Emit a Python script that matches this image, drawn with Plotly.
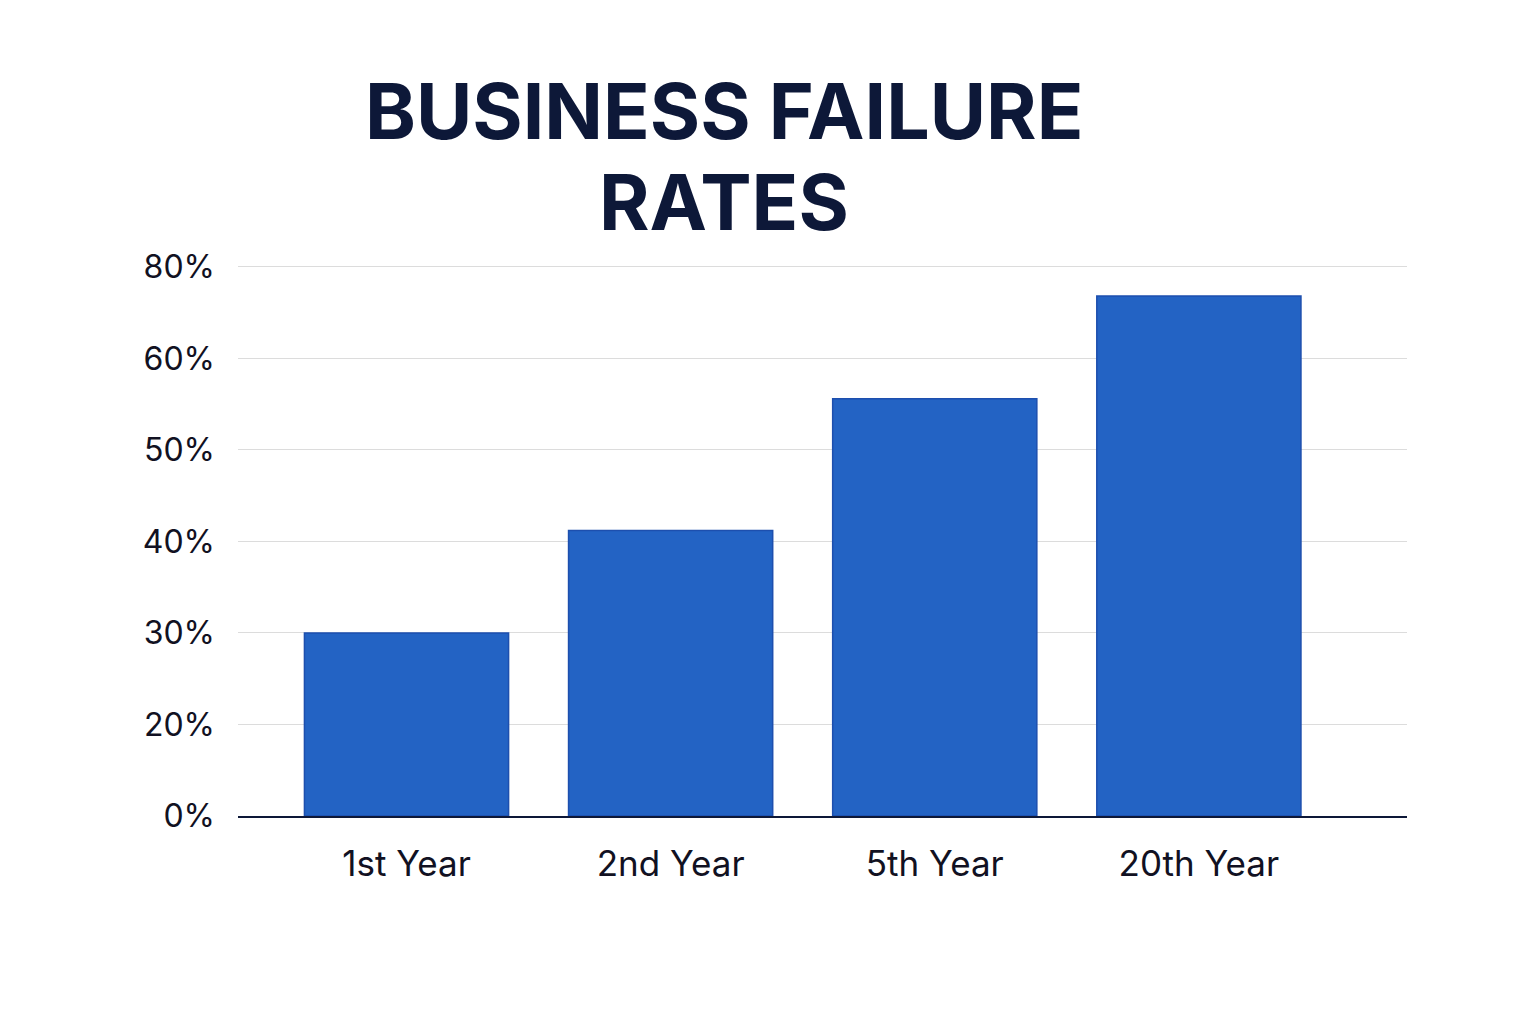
import numpy as np
import plotly.graph_objects as go

# data
years = ["1st Year", "2nd Year", "5th Year", "20th Year"]
failure_rates = [30, 41.2, 55.6, 73.6]

# the y axis is evenly spaced but labelled unevenly
tick_values = [0, 20, 30, 40, 50, 60, 80]
tick_labels = ["0%", "20%", "30%", "40%", "50%", "60%", "80%"]
title_lines = ["BUSINESS FAILURE", "RATES"]

tick_pos = list(range(len(tick_values)))
bar_heights = np.interp(failure_rates, tick_values, tick_pos)

fig = go.Figure()
fig.add_trace(go.Bar(
    x=list(range(len(years))),
    y=bar_heights,
    width=0.773,
    marker=dict(color="#2363c4", line=dict(color="#1d4fae", width=1.5)),
    hoverinfo="skip",
))

# title as two annotations so the line spacing can be tighter
for i, line in enumerate(title_lines):
    fig.add_annotation(
        text="<b>" + line + "</b>",
        xref="paper", yref="paper",
        x=(716 - 230) / (1536 - 230 - 137), xanchor="center",
        y=1 + (259 - 106 - i * 90) / (1024 - 259 - 216), yanchor="middle",
        showarrow=False,
        font=dict(family="Inter", size=77, color="#0d1838"),
    )

fig.update_layout(
    width=1536, height=1024,
    paper_bgcolor="white", plot_bgcolor="white",
    margin=dict(l=230, r=137, t=257, b=216),
    showlegend=False,
    font=dict(family="Inter", color="#111122"),
)
fig.update_xaxes(
    range=[-0.638, 3.788],
    tickvals=list(range(len(years))), ticktext=years,
    tickfont=dict(size=35, color="#111122"),
    showgrid=False, zeroline=False,
    showline=True, linecolor="#0d1838", linewidth=1.5,
    ticks="", ticklabelstandoff=16,
)
fig.update_yaxes(
    range=[0, 6.02],
    tickvals=tick_pos, ticktext=tick_labels,
    tickfont=dict(size=32, color="#111122"),
    showgrid=True, gridcolor="#dcdcdc", gridwidth=1,
    zeroline=False, ticks="", ticklabelstandoff=22,
)

fig.write_html("out.html")
